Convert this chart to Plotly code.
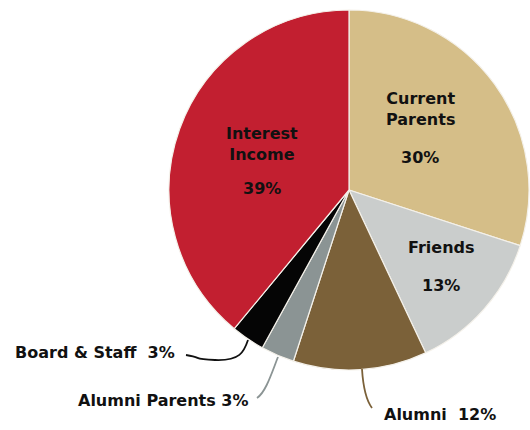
import plotly.graph_objects as go

W, H = 530, 430

labels = ["Current Parents", "Friends", "Alumni", "Alumni Parents", "Board & Staff", "Interest Income"]
values = [30, 13, 12, 3, 3, 39]
colors = ["#D5BE88", "#CACDCC", "#7B6139", "#8B9494", "#050505", "#C21F30"]

FONT = "DejaVu Sans"


def px_x(x):
    return x / W


def px_y(y):
    return 1 - y / H


fig = go.Figure(go.Pie(
    labels=labels,
    values=values,
    sort=False,
    direction="clockwise",
    rotation=0,
    textinfo="none",
    marker=dict(colors=colors, line=dict(color="#f4f1ea", width=1.2)),
    domain=dict(x=[px_x(169), px_x(529)], y=[px_y(370), px_y(10)]),
    hovertemplate="%{label}: %{percent}<extra></extra>",
    showlegend=False,
))

# labels inside slices
inner = [
    ("Current<br>Parents", 420, 109),
    ("30%", 420, 157),
    ("Interest<br>Income", 262, 144),
    ("39%", 262, 188),
    ("Friends", 441, 247),
    ("13%", 441, 285),
]
# labels outside with leader lines
outer = [
    ("Board & Staff  3%", 95, 352),
    ("Alumni Parents 3%", 163, 400),
    ("Alumni  12%", 440, 414),
]

annotations = []
for txt, x, y in inner + outer:
    annotations.append(dict(
        text="<b>" + txt + "</b>", x=px_x(x), y=px_y(y), xref="paper", yref="paper",
        showarrow=False, xanchor="center", yanchor="middle",
        font=dict(family=FONT, size=16, color="#111111"),
    ))

leaders = [
    ([(248, 340), (244, 352), (240, 361), (215, 360), (186, 355)], "#111111"),
    ([(278, 357), (272, 372), (266, 392), (257, 398)], "#8B9494"),
    ([(362, 369), (363, 385), (366, 400), (372, 408)], "#7B6139"),
]
shapes = []
for pts, col in leaders:
    p0, c1, c2, p3 = pts[0], pts[1], pts[2], pts[3]
    path = "M {} {} C {} {}, {} {}, {} {}".format(
        px_x(p0[0]), px_y(p0[1]), px_x(c1[0]), px_y(c1[1]),
        px_x(c2[0]), px_y(c2[1]), px_x(p3[0]), px_y(p3[1]))
    if len(pts) > 4:
        path += " S {} {}, {} {}".format(
            px_x(pts[3][0] - 10), px_y(pts[3][1] - 2), px_x(pts[4][0]), px_y(pts[4][1]))
    shapes.append(dict(type="path", path=path, xref="paper", yref="paper",
                       line=dict(color=col, width=1.8)))

fig.update_layout(
    width=W, height=H,
    margin=dict(l=0, r=0, t=0, b=0),
    paper_bgcolor="white",
    plot_bgcolor="white",
    annotations=annotations,
    shapes=shapes,
)

# drop the default page margin so the 530x430 figure fills the window
fig.write_html(
    "out.html",
    config={"displayModeBar": False},
    post_script="document.body.style.margin='0';document.body.style.overflow='hidden';",
)
